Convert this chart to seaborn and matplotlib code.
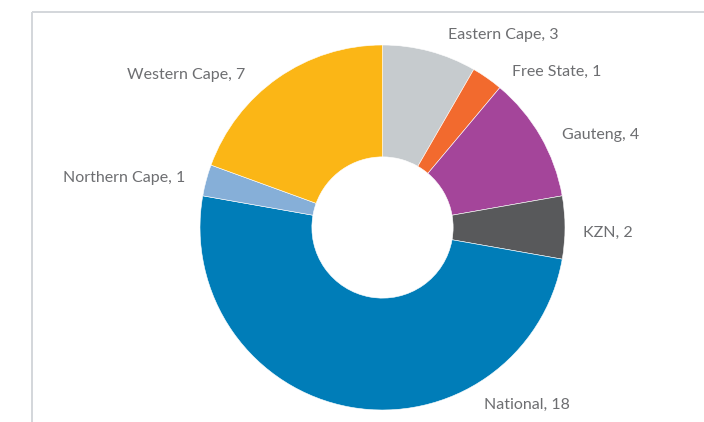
import matplotlib
matplotlib.use("Agg")
import matplotlib.pyplot as plt
import seaborn as sns
import numpy as np

# Projects by province
regions = ["Eastern Cape", "Free State", "Gauteng", "KZN", "National",
           "Northern Cape", "Western Cape"]
counts = [3, 1, 4, 2, 18, 1, 7]
colors = ["#c6cbce", "#f26a2e", "#a4459a", "#58595b", "#007db8",
          "#86afd8", "#fbb616"]

sns.set_theme(style="white")
plt.rcParams["font.family"] = ["Lato", "DejaVu Sans"]

W, H = 704, 422
fig = plt.figure(figsize=(W / 100, H / 100), dpi=100)
ax = fig.add_axes([0, 0, 1, 1])

cx, cy, R = 382.5, H - 227.5, 182.5
wedges, _ = ax.pie(counts, colors=sns.color_palette(colors), startangle=90,
                   counterclock=False, center=(cx, cy), radius=R,
                   wedgeprops=dict(width=R * 0.613, linewidth=0.4,
                                   edgecolor="white"),
                   frame=True)
ax.set_xlim(0, W)
ax.set_ylim(0, H)
ax.set_aspect("equal")
ax.set_axis_off()

# Frame lines (left and top)
ax.plot([32, 32], [0, H - 12], color="#d3d6da", lw=1.4, solid_capstyle="butt")
ax.plot([32, W], [H - 12, H - 12], color="#d3d6da", lw=1.4,
        solid_capstyle="butt")

# Label anchors (pixel x, pixel y from top, horizontal alignment)
label_layout = {
    "Eastern Cape": (448, 35, "left"),
    "Free State": (512, 72, "left"),
    "Gauteng": (562, 135, "left"),
    "KZN": (583, 233, "left"),
    "National": (484, 405, "left"),
    "Northern Cape": (185, 178, "right"),
    "Western Cape": (245, 75, "right"),
}
for name, val in zip(regions, counts):
    x, y, ha = label_layout[name]
    ax.text(x, H - y, f"{name}, {val}", ha=ha, va="center",
            fontsize=11.5, color="#6d6e71")

fig.savefig("out.png", dpi=100)
